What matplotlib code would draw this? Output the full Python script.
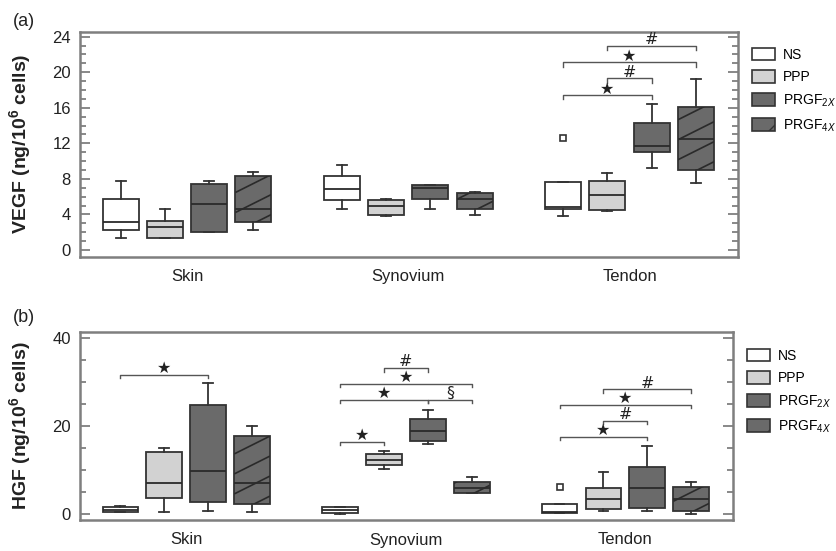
import matplotlib
matplotlib.use("Agg")
import matplotlib.pyplot as plt
import numpy as np
from matplotlib.patches import Patch
from matplotlib.collections import LineCollection
from matplotlib.ticker import MultipleLocator

plt.rcParams['font.family'] = ['Liberation Sans', 'DejaVu Sans']
plt.rcParams['mathtext.fontset'] = 'custom'
plt.rcParams['mathtext.rm'] = 'Liberation Sans'
plt.rcParams['mathtext.bf'] = 'Liberation Sans:bold'
plt.rcParams['mathtext.it'] = 'Liberation Sans:italic'
plt.rcParams['hatch.color'] = '#2a2a2a'

tissues = ["Skin", "Synovium", "Tendon"]
groups = ["NS", "PPP", "PRGF$_{2X}$", "PRGF$_{4X}$"]

# ---- VEGF (panel a): rows = tissues, cols = groups (NS, PPP, PRGF2X, PRGF4X)
vegf_whislo = [[1.4, 1.3, 2.0, 2.25], [4.65, 3.82, 4.65, 3.94], [3.82, 4.39, 9.26, 7.57]]
vegf_q1 = [[2.2, 1.3, 2.0, 3.1], [5.62, 3.97, 5.7, 4.57], [4.61, 4.5, 10.99, 9.03]]
vegf_med = [[3.2, 2.55, 5.17, 4.57], [6.9, 4.95, 7.0, 5.77], [4.8, 6.22, 11.7, 12.49]]
vegf_q3 = [[5.74, 3.3, 7.42, 8.36], [8.32, 5.62, 7.31, 6.37], [7.61, 7.8, 14.25, 16.05]]
vegf_whishi = [[7.8, 4.65, 7.8, 8.8], [9.56, 5.77, 7.31, 6.52], [7.61, 8.7, 16.46, 19.2]]
vegf_fliers = [[[], [], [], []], [[], [], [], []], [[12.6], [], [], []]]
# significance: (tissue, group_a, group_b, height, symbol)
vegf_sig = [(2, 0, 2, 17.4, "★"), (2, 1, 2, 19.3, "#"),
            (2, 0, 3, 21.1, "★"), (2, 1, 3, 23.0, "#")]

# ---- HGF (panel b)
hgf_whislo = [[0.6, 0.45, 0.75, 0.45], [0.0, 10.2, 15.9, 4.75], [0.2, 0.68, 0.68, 0.07]]
hgf_q1 = [[0.6, 3.77, 2.86, 2.34], [0.37, 11.2, 16.7, 4.75], [0.2, 1.13, 1.5, 0.68]]
hgf_med = [[1.0, 7.17, 9.9, 7.0], [0.97, 12.3, 18.96, 6.0], [0.4, 3.47, 6.04, 3.47]]
hgf_q3 = [[1.58, 14.06, 24.8, 17.7], [1.58, 13.6, 21.6, 7.26], [2.4, 5.9, 10.7, 6.26]]
hgf_whishi = [[1.96, 14.97, 29.7, 19.9], [1.58, 14.4, 23.6, 8.5], [2.4, 9.66, 15.4, 7.3]]
hgf_fliers = [[[], [], [], []], [[], [], [], []], [[6.2], [], [], []]]
hgf_sig = [(0, 0, 2, 31.6, "★"),
           (1, 0, 1, 16.4, "★"), (1, 0, 2, 25.9, "★"), (1, 2, 3, 25.9, "§"),
           (1, 0, 3, 29.5, "★"), (1, 1, 2, 33.1, "#"),
           (2, 0, 2, 17.5, "★"), (2, 1, 2, 21.2, "#"),
           (2, 0, 3, 24.8, "★"), (2, 1, 3, 28.3, "#")]

fill_colors = ["white", "#d2d2d2", "#6a6a6a", "#6a6a6a"]
edge_col = "#333333"
frame_col = "#7f7f7f"
spacing = 0.2
box_w = 0.163

fig = plt.figure(figsize=(8.37, 5.51), dpi=100)


def pos_of(t, g):
    return t + (g - 1.5) * spacing


def draw_panel(ax, lo, q1, med, q3, hi, fl, sig, ylim, major, minor, ylabel):
    ax.set_xlim(-0.484, 2.49)
    ax.set_ylim(*ylim)
    stats, positions = [], []
    for t in range(len(tissues)):
        for g in range(len(groups)):
            stats.append(dict(whislo=lo[t][g], q1=q1[t][g], med=med[t][g],
                              q3=q3[t][g], whishi=hi[t][g], fliers=fl[t][g]))
            positions.append(pos_of(t, g))
    res = ax.bxp(stats, positions=positions, widths=box_w, capwidths=0.045,
                 patch_artist=True, manage_ticks=False,
                 boxprops=dict(edgecolor=edge_col, linewidth=1.3),
                 whiskerprops=dict(color=edge_col, linewidth=1.3),
                 capprops=dict(color=edge_col, linewidth=1.3),
                 medianprops=dict(color="#2a2a2a", linewidth=1.3),
                 flierprops=dict(marker='s', markersize=4.5, markerfacecolor='white',
                                 markeredgecolor=edge_col, markeredgewidth=1.2))
    # fill + custom shallow hatch
    p0 = ax.transData.transform((0, 0))
    sx = ax.transData.transform((1, 0))[0] - p0[0]
    sy = ax.transData.transform((0, 1))[1] - p0[1]
    k = 0
    for t in range(len(tissues)):
        for g in range(len(groups)):
            patch = res['boxes'][k]
            patch.set_facecolor(fill_colors[g])
            if g == 3:
                x0 = positions[k] - box_w / 2
                x1 = positions[k] + box_w / 2
                hpx = (q3[t][g] - q1[t][g]) * sy
                wpx = box_w * sx
                segs = []
                c = 10 - 20 * int((wpx * 0.5) / 20 + 2)
                while c < hpx + 20:
                    ya = q1[t][g] + c / sy
                    yb = q1[t][g] + (c + 0.5 * wpx) / sy
                    segs.append([(x0, ya), (x1, yb)])
                    c += 20
                lc = LineCollection(segs, colors="#2a2a2a", linewidths=1.2, zorder=2.5)
                ax.add_collection(lc)
                lc.set_clip_path(patch)
            k += 1
    # significance brackets
    d = 0.018 * (ylim[1] - ylim[0])
    for (t, ga, gb, h, s) in sig:
        xa, xb = pos_of(t, ga), pos_of(t, gb)
        ax.plot([xa, xa, xb, xb], [h - d, h, h, h - d], color="#555555", lw=1.0)
        ax.annotate(s, xy=((xa + xb) / 2, h), xytext=(0, 4.5), textcoords='offset points',
                    ha='center', va='center', fontsize=11.5, color="#222222",
                    family=['DejaVu Sans'])
    # axes styling
    for sp in ax.spines.values():
        sp.set_color(frame_col)
        sp.set_linewidth(1.8)
    ax.set_xticks(range(len(tissues)))
    ax.set_xticklabels(tissues, fontsize=12)
    ax.tick_params(axis='x', length=0, pad=9, colors="#222222")
    ax.yaxis.set_major_locator(MultipleLocator(major))
    ax.yaxis.set_minor_locator(MultipleLocator(minor))
    ax.tick_params(axis='y', which='both', direction='in', right=True,
                   color=frame_col, width=1.3, labelsize=12, pad=6.5, labelcolor="#222222")
    ax.tick_params(axis='y', which='major', length=7)
    ax.tick_params(axis='y', which='minor', length=4)
    ax.set_ylabel(ylabel, fontsize=14, fontweight='bold', color="#222222")


axa = fig.add_axes([80 / 837, 1 - 256.7 / 551, 658 / 837, 225 / 551])
draw_panel(axa, vegf_whislo, vegf_q1, vegf_med, vegf_q3, vegf_whishi, vegf_fliers,
           vegf_sig, (-0.75, 24.56), 4, 1, r"VEGF (ng/10$^{\mathbf{6}}$ cells)")
axa.yaxis.set_label_coords(-0.071, 0.5)

axb = fig.add_axes([80 / 837, 1 - 520 / 551, 653 / 837, 188 / 551])
draw_panel(axb, hgf_whislo, hgf_q1, hgf_med, hgf_q3, hgf_whishi, hgf_fliers,
           hgf_sig, (-1.3, 41.3), 20, 5, r"HGF (ng/10$^{\mathbf{6}}$ cells)")
axb.yaxis.set_label_coords(-0.072, 0.5)

fig.text(13 / 837, 1 - 22 / 551, "(a)", fontsize=13, va='center', ha='left', color="#222222")
fig.text(13 / 837, 1 - 318 / 551, "(b)", fontsize=13, va='center', ha='left', color="#222222")

handles = [Patch(facecolor=fill_colors[g], edgecolor=edge_col, linewidth=1.2,
                 hatch='/' if g == 3 else None) for g in range(len(groups))]
for (bx, by) in [(749 / 837, 1 - 45 / 551), (744 / 837, 1 - 346 / 551)]:
    fig.legend(handles, groups, loc='upper left', bbox_to_anchor=(bx, by),
               frameon=False, fontsize=10, handlelength=1.65, handleheight=1.0,
               labelspacing=0.6, handletextpad=0.6, borderpad=0.2, borderaxespad=0)

fig.savefig("out.png", dpi=100)
